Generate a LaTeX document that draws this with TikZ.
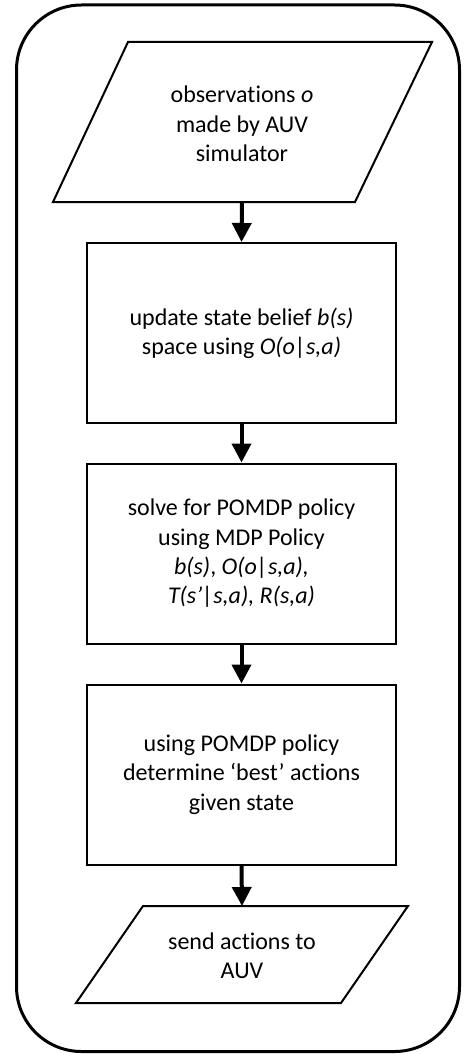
\documentclass[tikz,border=0pt]{standalone}
\usepackage{fontspec}
\setmainfont[Ligatures=NoCommon]{Carlito}
\usetikzlibrary{arrows.meta}

\tikzset{
  frame/.style={draw, line width=3pt, rounded corners=65pt},
  stepbox/.style={draw, line width=2pt, minimum width=309pt, minimum height=180pt,
    align=center, inner sep=0pt},
  iobox/.style={draw, line width=2pt, line join=miter},
  label/.style={align=center, inner sep=0pt},
  flow/.style={line width=4pt, -{Triangle[length=19pt,width=19pt]}},
}

\begin{document}
\begin{tikzpicture}[x=1pt, y=-1pt, font=\fontsize{24}{29.3}\selectfont]
\useasboundingbox (0,0) rectangle (465,1054);

% outer rounded frame
\draw[frame] (16.5,5) rectangle (459.5,1051.5);

% input parallelogram
\draw[iobox] (128,42) -- (432,42) -- (355,202) -- (53,202) -- cycle;
\node[label] (obs) at (242,124) {observations \textit{o}\\made by AUV\\simulator};
\coordinate (obsout) at (242,202);

% process steps
\node[stepbox] (upd) at (241.5,333) {update state belief \textit{b(s)}\\space using \textit{O(o|s,a)}};
\node[stepbox] (solve) at (241.5,553.5) {solve for POMDP policy\\using MDP Policy\\\textit{b(s)}, \textit{O(o|s,a),}\\\textit{T(s’|s,a), R(s,a)}};
\node[stepbox] (best) at (241.5,774.5) {using POMDP policy\\determine ‘best’ actions\\given state};

% output parallelogram
\draw[iobox] (143,906) -- (408,906) -- (341,1003) -- (76,1003) -- cycle;
\node[label] (send) at (242,956) {send actions to\\AUV};
\coordinate (sendin) at (242,906);

% connectors
\draw[flow] (obsout) -- (upd.north);
\draw[flow] (upd.south) -- (solve.north);
\draw[flow] (solve.south) -- (best.north);
\draw[flow] (best.south) -- (sendin);
\end{tikzpicture}
\end{document}
